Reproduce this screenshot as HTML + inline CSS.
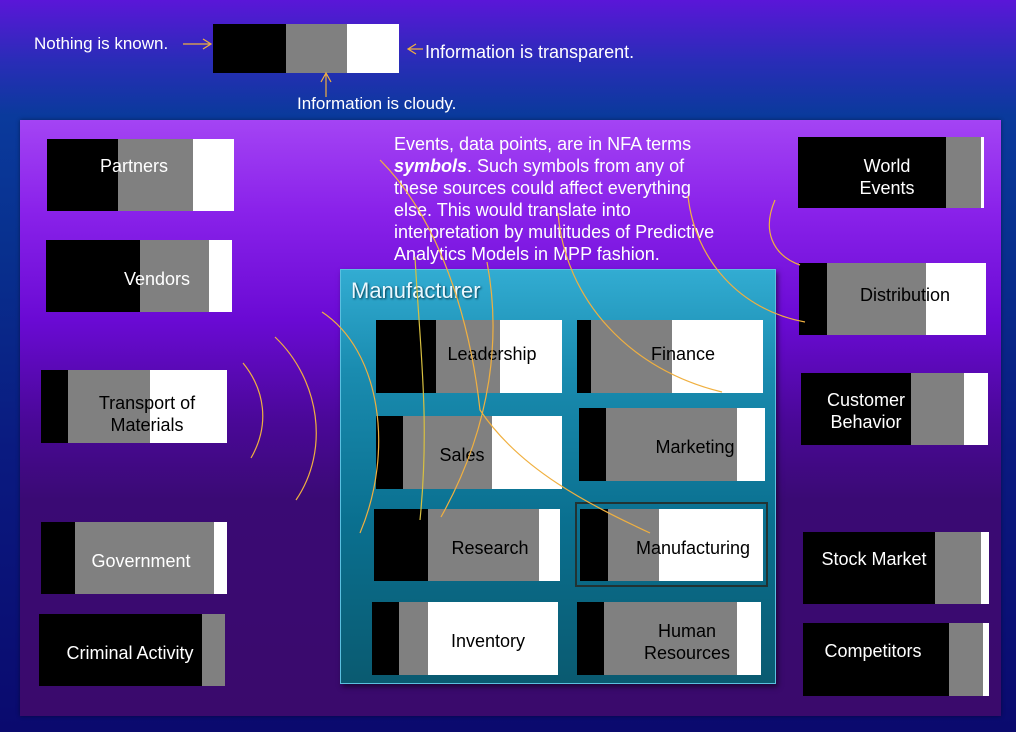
<!DOCTYPE html>
<html><head><meta charset="utf-8"><style>
*{margin:0;padding:0;box-sizing:border-box}
body{width:1016px;height:732px;position:relative;overflow:hidden;font-family:"Liberation Sans",Arial,sans-serif;background:linear-gradient(to bottom,#5a16d8 0px,#2a2cb8 60px,#0a3a9c 115px,#08308e 250px,#0a1a80 450px,#0a0a6e 732px)}
.a{position:absolute}
.panel{left:20px;top:120px;width:981px;height:596px;background:linear-gradient(to bottom,#a444f4 0px,#8a22ea 90px,#6a0ad4 200px,#4a0898 300px,#3a0a74 380px,#3a0a6c 596px);box-shadow:0 0 4px rgba(0,0,0,.4)}
.mf{left:340px;top:269px;width:436px;height:415px;background:linear-gradient(to bottom,#32acd2 0px,#1a8cb0 100px,#0a7090 250px,#0a5a70 415px);border:1px solid #5ac0e0;box-shadow:2px 3px 5px rgba(0,0,0,.5)}
.b{position:absolute;background:#fff}
.b i{position:absolute;top:0;bottom:0;display:block}
.t{position:absolute;font-size:18px;line-height:22px;text-align:center;white-space:nowrap}
.w{color:#fff}.k{color:#000}
</style></head><body>
<div class="a panel"></div>
<div class="a mf"></div>
<div class="a" style="left:351px;top:278px;font-size:22px;color:#eaf8ff;text-shadow:1px 1px 2px #034">Manufacturer</div>
<div class="a" style="left:575px;top:502px;width:193px;height:85px;border:2px solid #233;"></div>

<div class="b" style="left:213px;top:24px;width:186px;height:49px"><i style="left:0;width:73px;background:#000"></i><i style="left:73px;width:61px;background:#808080"></i></div>

<div class="b" style="left:47px;top:139px;width:187px;height:72px"><i style="left:0;width:71px;background:#000"></i><i style="left:71px;width:75px;background:#808080"></i></div>
<div class="t w" style="left:47px;top:155px;width:174px">Partners</div>

<div class="b" style="left:46px;top:240px;width:186px;height:72px"><i style="left:0;width:94px;background:#000"></i><i style="left:94px;width:69px;background:#808080"></i></div>
<div class="t w" style="left:46px;top:268px;width:222px">Vendors</div>

<div class="b" style="left:41px;top:370px;width:186px;height:73px"><i style="left:0;width:27px;background:#000"></i><i style="left:27px;width:82px;background:#808080"></i></div>
<div class="t k" style="left:67px;top:392px;width:160px;line-height:22px;white-space:normal">Transport of<br>Materials</div>

<div class="b" style="left:41px;top:522px;width:186px;height:72px"><i style="left:0;width:34px;background:#000"></i><i style="left:34px;width:139px;background:#808080"></i></div>
<div class="t w" style="left:41px;top:550px;width:200px">Government</div>

<div class="b" style="left:39px;top:614px;width:186px;height:72px;background:#808080"><i style="left:0;width:163px;background:#000"></i></div>
<div class="t w" style="left:39px;top:642px;width:182px">Criminal Activity</div>

<div class="b" style="left:798px;top:137px;width:186px;height:71px"><i style="left:0;width:148px;background:#000"></i><i style="left:148px;width:35px;background:#808080"></i></div>
<div class="t w" style="left:798px;top:155px;width:178px;white-space:normal">World<br>Events</div>

<div class="b" style="left:799px;top:263px;width:187px;height:72px"><i style="left:0;width:28px;background:#000"></i><i style="left:28px;width:99px;background:#808080"></i></div>
<div class="t k" style="left:799px;top:284px;width:212px">Distribution</div>

<div class="b" style="left:801px;top:373px;width:187px;height:72px"><i style="left:0;width:110px;background:#000"></i><i style="left:110px;width:53px;background:#808080"></i></div>
<div class="t w" style="left:801px;top:389px;width:130px;white-space:normal">Customer<br>Behavior</div>

<div class="b" style="left:803px;top:532px;width:186px;height:72px"><i style="left:0;width:132px;background:#000"></i><i style="left:132px;width:46px;background:#808080"></i></div>
<div class="t w" style="left:803px;top:548px;width:142px">Stock Market</div>

<div class="b" style="left:803px;top:623px;width:186px;height:73px"><i style="left:0;width:146px;background:#000"></i><i style="left:146px;width:34px;background:#808080"></i></div>
<div class="t w" style="left:803px;top:640px;width:140px">Competitors</div>

<div class="b" style="left:376px;top:320px;width:186px;height:73px"><i style="left:0;width:60px;background:#000"></i><i style="left:60px;width:64px;background:#808080"></i></div>
<div class="t k" style="left:376px;top:343px;width:232px">Leadership</div>

<div class="b" style="left:577px;top:320px;width:186px;height:73px"><i style="left:0;width:14px;background:#000"></i><i style="left:14px;width:81px;background:#808080"></i></div>
<div class="t k" style="left:577px;top:343px;width:212px">Finance</div>

<div class="b" style="left:376px;top:416px;width:186px;height:73px"><i style="left:0;width:27px;background:#000"></i><i style="left:27px;width:89px;background:#808080"></i></div>
<div class="t k" style="left:376px;top:444px;width:172px">Sales</div>

<div class="b" style="left:579px;top:408px;width:186px;height:73px"><i style="left:0;width:27px;background:#000"></i><i style="left:27px;width:131px;background:#808080"></i></div>
<div class="t k" style="left:579px;top:436px;width:232px">Marketing</div>

<div class="b" style="left:374px;top:509px;width:186px;height:72px"><i style="left:0;width:54px;background:#000"></i><i style="left:54px;width:111px;background:#808080"></i></div>
<div class="t k" style="left:374px;top:537px;width:232px">Research</div>

<div class="b" style="left:580px;top:509px;width:183px;height:72px"><i style="left:0;width:28px;background:#000"></i><i style="left:28px;width:51px;background:#808080"></i></div>
<div class="t k" style="left:580px;top:537px;width:226px">Manufacturing</div>

<div class="b" style="left:372px;top:602px;width:186px;height:73px"><i style="left:0;width:27px;background:#000"></i><i style="left:27px;width:29px;background:#808080"></i></div>
<div class="t k" style="left:372px;top:630px;width:232px">Inventory</div>

<div class="b" style="left:577px;top:602px;width:184px;height:73px"><i style="left:0;width:27px;background:#000"></i><i style="left:27px;width:133px;background:#808080"></i></div>
<div class="t k" style="left:577px;top:620px;width:220px;white-space:normal">Human<br>Resources</div>

<div class="t w" style="left:34px;top:33px;text-align:left;font-size:17px">Nothing is known.</div>
<div class="t w" style="left:425px;top:41px;text-align:left">Information is transparent.</div>
<div class="t w" style="left:297px;top:93px;text-align:left;font-size:17px">Information is cloudy.</div>

<div class="a" style="left:394px;top:133px;width:335px;font-size:18px;line-height:22px;color:#fff">Events, data points, are in NFA terms <b><i>symbols</i></b>. Such symbols from any of these sources could affect everything else. This would translate into interpretation by multitudes of Predictive Analytics Models in MPP fashion.</div>

<svg class="a" style="left:0;top:0" width="1016" height="732" fill="none" stroke="#f0b040" stroke-width="1.2">
<path d="M183,44 H210 M203,39 L211,44 L203,49"/>
<path d="M423,49 H409 M416,44 L408,49 L416,54"/>
<path d="M326,97 V74 M321,82 L326,73 L331,82"/>
<path d="M243,363 C265,390 270,425 251,458"/>
<path d="M275,337 C320,380 330,450 296,500"/>
<path d="M322,312 C380,350 395,450 360,533"/>
<path d="M380,160 C440,220 470,320 480,410 C520,470 590,505 650,533"/>
<path d="M487,262 C500,330 495,420 441,517"/>
<path d="M415,257 C420,350 430,420 420,520" stroke="#d8c040"/>
<path d="M558,213 C565,300 630,370 722,392"/>
<path d="M688,196 C695,260 740,310 805,322"/>
<path d="M775,200 C762,230 772,255 800,265"/>
</svg>
</body></html>
